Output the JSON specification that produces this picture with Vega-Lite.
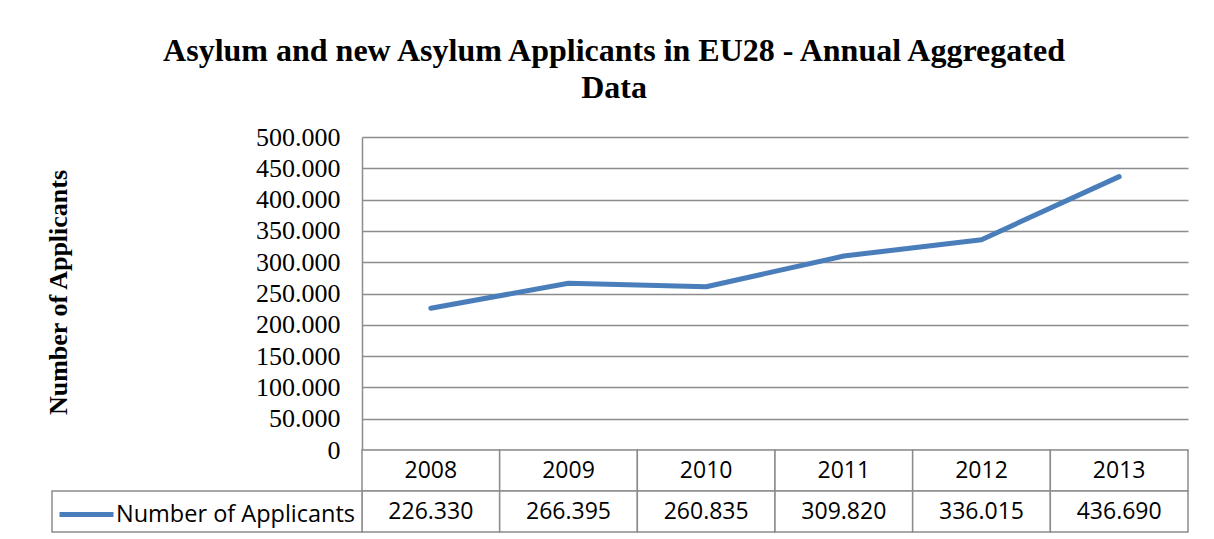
{
  "$schema": "https://vega.github.io/schema/vega-lite/v6.json",
  "width": 826,
  "height": 313,
  "autosize": {"type": "none"},
  "padding": {"left": 362, "top": 137, "right": 26, "bottom": 89},
  "background": "white",
  "config": {
    "locale": {"number": {"decimal": ",", "thousands": ".", "grouping": [3], "currency": ["", " €"]}},
    "view": {"stroke": null}
  },
  "title": {
    "text": ["Asylum and new Asylum Applicants in EU28 - Annual Aggregated", "Data"],
    "font": "Liberation Serif",
    "fontSize": 32,
    "fontWeight": "bold",
    "lineHeight": 37,
    "color": "black",
    "anchor": "middle",
    "frame": "group",
    "dx": -161,
    "offset": 19
  },
  "data": {
    "values": [
      {"year": "2008", "value": 226330},
      {"year": "2009", "value": 266395},
      {"year": "2010", "value": 260835},
      {"year": "2011", "value": 309820},
      {"year": "2012", "value": 336015},
      {"year": "2013", "value": 436690}
    ]
  },
  "layer": [
    {
      "layer": [
        {
          "mark": {"type": "rect", "fill": "white", "stroke": "#8c8c8c", "strokeWidth": 1.5},
          "encoding": {
            "y": {"datum": "header", "type": "nominal", "scale": {"type": "band", "domain": ["header", "value"], "range": [313, 395], "paddingInner": 0, "paddingOuter": 0}, "axis": null}
          }
        },
        {
          "mark": {"type": "rect", "fill": "white", "stroke": "#8c8c8c", "strokeWidth": 1.5},
          "encoding": {
            "y": {"datum": "value", "type": "nominal", "scale": {"type": "band", "domain": ["header", "value"], "range": [313, 395], "paddingInner": 0, "paddingOuter": 0}, "axis": null}
          }
        },
        {
          "mark": {"type": "text", "font": "Open Sans", "fontSize": 23, "color": "black", "align": "center", "baseline": "middle"},
          "encoding": {
            "y": {"datum": "header", "type": "nominal", "bandPosition": 0.5, "scale": {"type": "band", "domain": ["header", "value"], "range": [313, 395], "paddingInner": 0, "paddingOuter": 0}, "axis": null},
            "text": {"field": "year", "type": "nominal"}
          }
        },
        {
          "mark": {"type": "text", "font": "Open Sans", "fontSize": 23, "color": "black", "align": "center", "baseline": "middle"},
          "encoding": {
            "y": {"datum": "value", "type": "nominal", "bandPosition": 0.5, "scale": {"type": "band", "domain": ["header", "value"], "range": [313, 395], "paddingInner": 0, "paddingOuter": 0}, "axis": null},
            "text": {"field": "value", "type": "quantitative", "format": ",d"}
          }
        }
      ],
      "encoding": {
        "x": {"field": "year", "type": "nominal", "bandPosition": 0.5, "scale": {"type": "band", "paddingInner": 0, "paddingOuter": 0}, "axis": null}
      }
    },
    {
      "data": {"values": [{"series": "Number of Applicants"}]},
      "mark": {"type": "rect", "fill": "white", "stroke": "#8c8c8c", "strokeWidth": 1.5},
      "encoding": {
        "x": {"field": "series", "type": "nominal", "scale": {"type": "band", "range": [-310, 0], "paddingInner": 0, "paddingOuter": 0}, "axis": null},
        "y": {"datum": "value", "type": "nominal", "scale": {"type": "band", "domain": ["header", "value"], "range": [313, 395], "paddingInner": 0, "paddingOuter": 0}, "axis": null}
      }
    },
    {
      "mark": {"type": "line", "strokeWidth": 5, "strokeCap": "round", "strokeJoin": "round"},
      "encoding": {
        "x": {"field": "year", "type": "nominal", "bandPosition": 0.5, "scale": {"type": "band", "paddingInner": 0, "paddingOuter": 0}, "axis": null},
        "y": {
          "field": "value",
          "type": "quantitative",
          "scale": {"domain": [0, 500000], "nice": false, "zero": true},
          "axis": {
            "values": [0, 50000, 100000, 150000, 200000, 250000, 300000, 350000, 400000, 450000, 500000],
            "format": ",d",
            "labelFont": "Liberation Serif",
            "labelFontSize": 26,
            "labelColor": "black",
            "labelPadding": 22,
            "labelFlush": false,
            "labelOverlap": false,
            "labelBaseline": "middle",
            "ticks": false,
            "domainColor": "#8c8c8c",
            "domainWidth": 1.5,
            "grid": true,
            "gridColor": "#8c8c8c",
            "gridWidth": 1.5,
            "title": "Number of Applicants",
            "titleFont": "Liberation Serif",
            "titleFontSize": 26,
            "titleFontWeight": "bold",
            "titleColor": "black",
            "titleAngle": -90,
            "titleAlign": "center",
            "titleBaseline": "middle",
            "titleX": -304,
            "titleY": 155
          }
        },
        "color": {
          "datum": "Number of Applicants",
          "type": "nominal",
          "scale": {"range": ["#4A7EBB"]},
          "legend": {
            "orient": "none",
            "legendX": -305,
            "legendY": 348,
            "title": null,
            "padding": 0,
            "symbolType": "stroke",
            "symbolStrokeWidth": 5,
            "symbolSize": 2916,
            "labelFont": "Open Sans",
            "labelFontSize": 23.5,
            "labelColor": "black",
            "labelOffset": 0,
            "labelLimit": 400,
            "encoding": {"symbols": {"update": {"strokeCap": {"value": "round"}}}}
          }
        }
      }
    }
  ],
  "resolve": {"scale": {"x": "independent", "y": "independent", "color": "independent"}}
}
